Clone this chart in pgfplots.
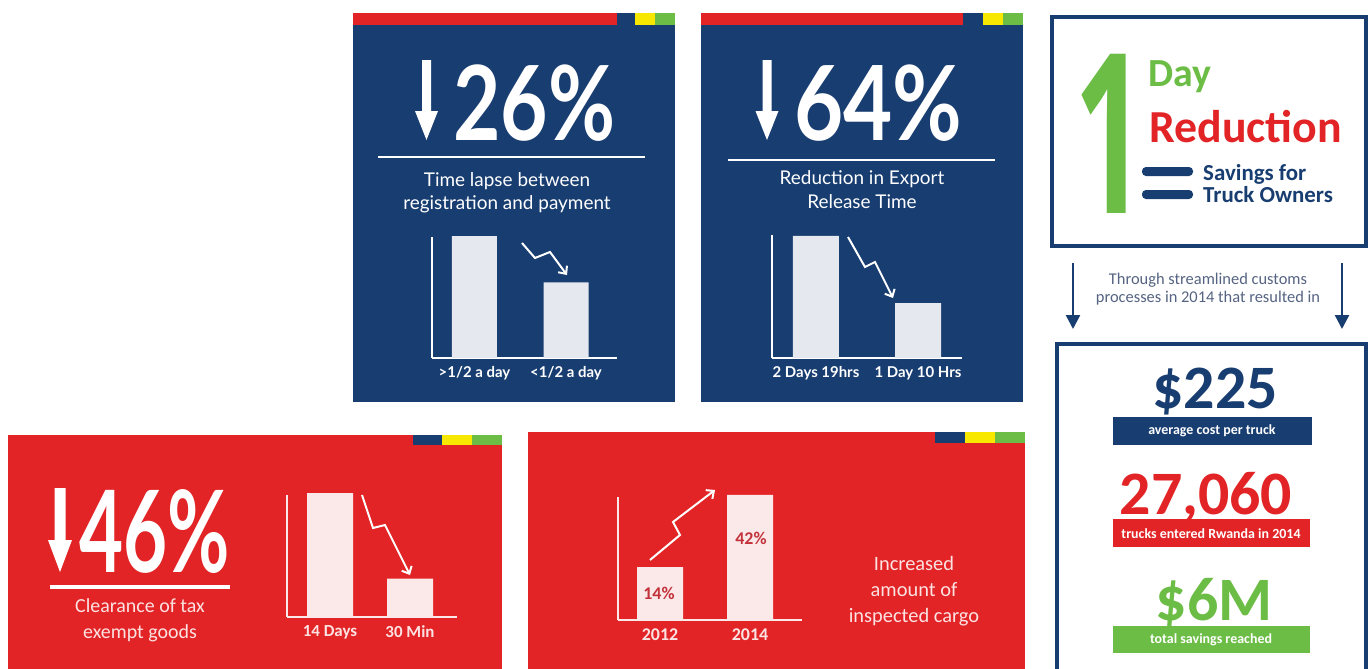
\documentclass[border=0pt]{standalone}
\usepackage{pgfplots}
\pgfplotsset{compat=1.18}
\usetikzlibrary{arrows.meta}
\usepackage{fontspec}
\setmainfont{Lato}
\newfontfamily\lato{Lato}
\newfontfamily\carlito{Carlito}
\newfontfamily\opensans{Open Sans}
\definecolor{navy}{RGB}{24,61,112}
\definecolor{rred}{RGB}{226,36,38}
\definecolor{ryellow}{RGB}{248,232,0}
\definecolor{rgreen}{RGB}{108,189,69}
\definecolor{bargray}{RGB}{229,232,239}
\definecolor{barpink}{RGB}{251,233,233}
\definecolor{pinktext}{RGB}{252,226,226}
\definecolor{graytext}{RGB}{85,100,130}
\definecolor{darkred}{RGB}{195,50,58}
\newcommand{\FS}[1]{\fontsize{#1}{#1}\selectfont}
\pgfplotsset{
  mini/.style={
    scale only axis, clip=false, ybar, ymin=0,
    axis lines*=left,
    axis line style={-, line width=2.5bp},
    xtick=data, ytick=\empty, major tick length=0pt,
    xticklabel style={yshift=-5bp},
  }
}
\begin{document}
\begin{tikzpicture}
\begin{scope}[x=1bp,y=-1bp]
\fill[white] (0,0) rectangle (1372,669);
% ---------- panel 1 (blue, 26%)
\fill[navy] (353,13) rectangle (675,402);
\fill[rred] (353,13) rectangle (617,25);
\fill[ryellow] (635,13) rectangle (655,25);
\fill[rgreen] (655,13) rectangle (675,25);
\fill[white] (422,60) -- (431,60) -- (431,111) -- (438,111) -- (426.5,140) -- (415,111) -- (422,111) -- cycle;
\node[anchor=base west, inner sep=0, xscale=0.79, text=white, font=\lato\bfseries\FS{104}] at (453,140) {26\%};
\draw[white, line width=3] (378,157) -- (645,157);
\node[anchor=base, inner sep=0, text=white, font=\lato\FS{19}] at (507,186) {Time lapse between};
\node[anchor=base, inner sep=0, text=white, font=\lato\FS{19}] at (507,209) {registration and payment};
% ---------- panel 2 (blue, 64%)
\fill[navy] (701,13) rectangle (1023,402);
\fill[rred] (701,13) rectangle (963,25);
\fill[ryellow] (983,13) rectangle (1003,25);
\fill[rgreen] (1003,13) rectangle (1023,25);
\fill[white] (762.5,60) -- (771.5,60) -- (771.5,111) -- (778.5,111) -- (767,140) -- (755.5,111) -- (762.5,111) -- cycle;
\node[anchor=base west, inner sep=0, xscale=0.82, text=white, font=\lato\bfseries\FS{104}] at (794,140) {64\%};
\draw[white, line width=3] (728,160) -- (995,160);
\node[anchor=base, inner sep=0, text=white, font=\lato\FS{19}] at (862,184) {Reduction in Export};
\node[anchor=base, inner sep=0, text=white, font=\lato\FS{19}] at (862,208) {Release Time};
% ---------- panel 5 (red, 46%)
\fill[rred] (8,435) rectangle (502,700);
\fill[navy] (413,435) rectangle (442,445);
\fill[ryellow] (442,435) rectangle (472,445);
\fill[rgreen] (472,435) rectangle (502,445);
\fill[white] (54.5,488) -- (65.5,488) -- (65.5,540) -- (72,540) -- (60,572) -- (48,540) -- (54.5,540) -- cycle;
\node[anchor=base west, inner sep=0, xscale=0.67, text=white, font=\lato\bfseries\FS{114}] at (79,572) {46\%};
\draw[white, line width=3.5] (50,587) -- (230,587);
\node[anchor=base, inner sep=0, text=pinktext, font=\carlito\FS{20}] at (140,612) {Clearance of tax};
\node[anchor=base, inner sep=0, text=pinktext, font=\carlito\FS{20}] at (140,638) {exempt goods};
% ---------- panel 6 (red, inspected cargo)
\fill[rred] (528,432) rectangle (1025,700);
\fill[navy] (935,432) rectangle (965,443);
\fill[ryellow] (965,432) rectangle (995,443);
\fill[rgreen] (995,432) rectangle (1025,443);
\node[anchor=base, inner sep=0, text=pinktext, font=\carlito\FS{20.5}] at (914,570) {Increased};
\node[anchor=base, inner sep=0, text=pinktext, font=\carlito\FS{20.5}] at (914,596) {amount of};
\node[anchor=base, inner sep=0, text=pinktext, font=\carlito\FS{20.5}] at (914,622) {inspected cargo};
% ---------- panel 3 (1 day)
\draw[navy, line width=4] (1052,17) rectangle (1366,246);
\node[anchor=base west, inner sep=0, xscale=0.56, text=rgreen, font=\opensans\bfseries\FS{224}] at (1074,213) {1};
\node[anchor=base west, inner sep=0, text=rgreen, font=\carlito\bfseries\FS{40}] at (1148,86) {Day};
\node[anchor=base west, inner sep=0, text=rred, font=\carlito\bfseries\FS{46}] at (1149,142) {Reduction};
\fill[navy, rounded corners=4] (1142,167) rectangle (1193,176);
\fill[navy, rounded corners=4] (1142,190) rectangle (1193,199);
\node[anchor=base west, inner sep=0, text=navy, font=\carlito\bfseries\FS{23}] at (1203,180) {Savings for};
\node[anchor=base west, inner sep=0, text=navy, font=\carlito\bfseries\FS{23}] at (1203,202) {Truck Owners};
\node[anchor=base, inner sep=0, text=graytext, font=\carlito\FS{16.5}] at (1208,284) {Through streamlined customs};
\node[anchor=base, inner sep=0, text=graytext, font=\carlito\FS{16.5}] at (1208,302) {processes in 2014 that resulted in};
\draw[navy, line width=2.5, -{Triangle[length=14bp,width=14bp]}] (1073,263) -- (1073,329);
\draw[navy, line width=2.5, -{Triangle[length=14bp,width=14bp]}] (1342,263) -- (1342,329);
% ---------- panel 4 (numbers)
\draw[navy, line width=4] (1057,344) rectangle (1366,700);
\node[anchor=base, inner sep=0, text=navy, font=\carlito\bfseries\FS{62}] at (1215,408) {\$225};
\fill[navy] (1113,417) rectangle (1312,445);
\node[anchor=center, inner sep=0, text=white, font=\carlito\bfseries\FS{14}] at (1212,431) {average cost per truck};
\node[anchor=base, inner sep=0, text=rred, font=\carlito\bfseries\FS{62}] at (1206,514) {27,060};
\fill[rred] (1113,519) rectangle (1310,547);
\node[anchor=center, inner sep=0, text=white, font=\carlito\bfseries\FS{14}] at (1211,534) {trucks entered Rwanda in 2014};
\node[anchor=base, inner sep=0, text=rgreen, font=\carlito\bfseries\FS{62}] at (1214,620) {\$6M};
\fill[rgreen] (1113,626) rectangle (1310,653);
\node[anchor=center, inner sep=0, text=white, font=\carlito\bfseries\FS{14}] at (1211,640) {total savings reached};
% ---------- zigzag arrows
\draw[white, line width=2, line join=miter, -{Straight Barb[length=6bp,width=11bp]}] (522,243) -- (535,258) -- (550,252) -- (567,275);
\draw[white, line width=2, line join=miter, -{Straight Barb[length=6bp,width=11bp]}] (848,237) -- (865,267) -- (875,262) -- (893,298);
\draw[white, line width=2, line join=miter, -{Straight Barb[length=6bp,width=11bp]}] (362,495) -- (373,528) -- (385,525) -- (410,575);
\draw[white, line width=2, line join=miter, -{Straight Barb[length=6bp,width=11bp]}] (650,560) -- (680,535) -- (673,522) -- (715,490);
\end{scope}

% ---------- chart 1
\begin{axis}[mini, at={(432bp,-358bp)}, anchor=south west, width=185bp, height=121bp,
  xmin=-0.464, xmax=1.557, ymax=0.992, bar width=45bp,
  axis line style={white},
  xticklabels={{>1/2 a day},{<1/2 a day}},
  xticklabel style={text=white, font=\lato\bfseries\FS{15}}]
\addplot[fill=bargray, draw=none] coordinates {(0,1.00) (1,0.62)};
\end{axis}
% ---------- chart 2
\begin{axis}[mini, at={(772bp,-358bp)}, anchor=south west, width=190bp, height=123bp,
  xmin=-0.431, xmax=1.431, ymax=1.008, bar width=46bp,
  axis line style={white},
  xticklabels={{2 Days 19hrs},{1 Day 10 Hrs}},
  xticklabel style={text=white, font=\lato\bfseries\FS{15}}]
\addplot[fill=bargray, draw=none] coordinates {(0,1.00) (1,0.45)};
\end{axis}
% ---------- chart 5
\begin{axis}[mini, at={(287bp,-617bp)}, anchor=south west, width=170bp, height=122bp,
  xmin=-0.5375, xmax=1.5875, ymax=0.984, bar width=46bp,
  axis line style={barpink},
  xticklabels={{14 Days},{30 Min}},
  xticklabel style={text=pinktext, font=\carlito\bfseries\FS{17}}]
\addplot[fill=barpink, draw=none] coordinates {(0,1.00) (1,0.31)};
\end{axis}
% ---------- chart 6
\begin{axis}[mini, at={(618bp,-620bp)}, anchor=south west, width=184bp, height=123bp,
  xmin=-0.467, xmax=1.578, ymax=47.8, bar width=46bp,
  axis line style={barpink},
  xticklabels={{2012},{2014}},
  xticklabel style={text=pinktext, font=\carlito\bfseries\FS{18}}]
\addplot[fill=barpink, draw=none, y filter/.expression={y+6.6}] coordinates {(0,14) (1,42)};
\end{axis}
\begin{scope}[x=1bp,y=-1bp]
\node[anchor=center, text=darkred, font=\carlito\bfseries\FS{18}] at (659,593) {14\%};
\node[anchor=center, text=darkred, font=\carlito\bfseries\FS{18}] at (751,538) {42\%};
\end{scope}
\pgfresetboundingbox
\useasboundingbox (0bp,0bp) rectangle (1372bp,-669bp);
\end{tikzpicture}
\end{document}
